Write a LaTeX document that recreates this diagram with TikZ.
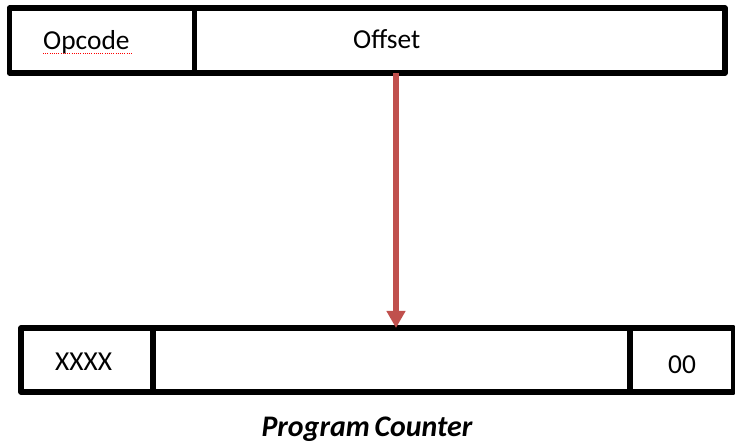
\documentclass[tikz,border=0pt]{standalone}
\usepackage{fontspec}
\setmainfont{Carlito}
\usetikzlibrary{arrows.meta}
\definecolor{arrowred}{RGB}{192,80,77}
\tikzset{
  field/.style={draw=black, line width=5.5bp, line join=round, rectangle,
    inner sep=0pt, outer sep=0pt, fill=white},
  lbl/.style={anchor=base west, inner sep=0pt, font=\fontsize{27.5}{32}\selectfont},
  jump/.style={draw=arrowred, line width=5.5bp,
    -{Triangle[width=18bp,length=17bp]}}
}
\begin{document}
\begin{tikzpicture}[x=1bp,y=-1bp]
  \useasboundingbox (0,0) rectangle (735,445);
  % instruction word
  \node[field, minimum width=185bp, minimum height=65bp] (opc) at (102,40.5) {};
  \node[field, minimum width=530.5bp, minimum height=65bp] (off) at (459.75,40.5) {};
  % program counter register
  \node[field, minimum width=132bp, minimum height=64bp] (pchi) at (87,360) {};
  \node[field, minimum width=477bp, minimum height=64bp] (pcmid) at (391.5,360) {};
  \node[field, minimum width=103.5bp, minimum height=64bp] (pclo) at (681.75,360) {};
  % field labels
  \node[lbl] (opctext) at (43,50) {Opcode};
  \draw[red, line width=1bp, dash pattern=on 1bp off 1.2bp] (43,53.5) -- (132,53.5);
  \node[lbl] (offtext) at (353,49) {Offset};
  \node[lbl] (hitext) at (55,370) {XXXX};
  \node[lbl] (lotext) at (668,373) {00};
  \node[anchor=base, inner sep=0pt, font=\fontsize{30}{35}\selectfont\bfseries\itshape]
    (caption) at (367,436) {Program\kern-2bp\ Counter};
  % offset feeds the program counter
  \coordinate (tap) at (396,0);
  \draw[jump] (off.south -| tap) -- (pcmid.north -| tap);
\end{tikzpicture}
\end{document}
